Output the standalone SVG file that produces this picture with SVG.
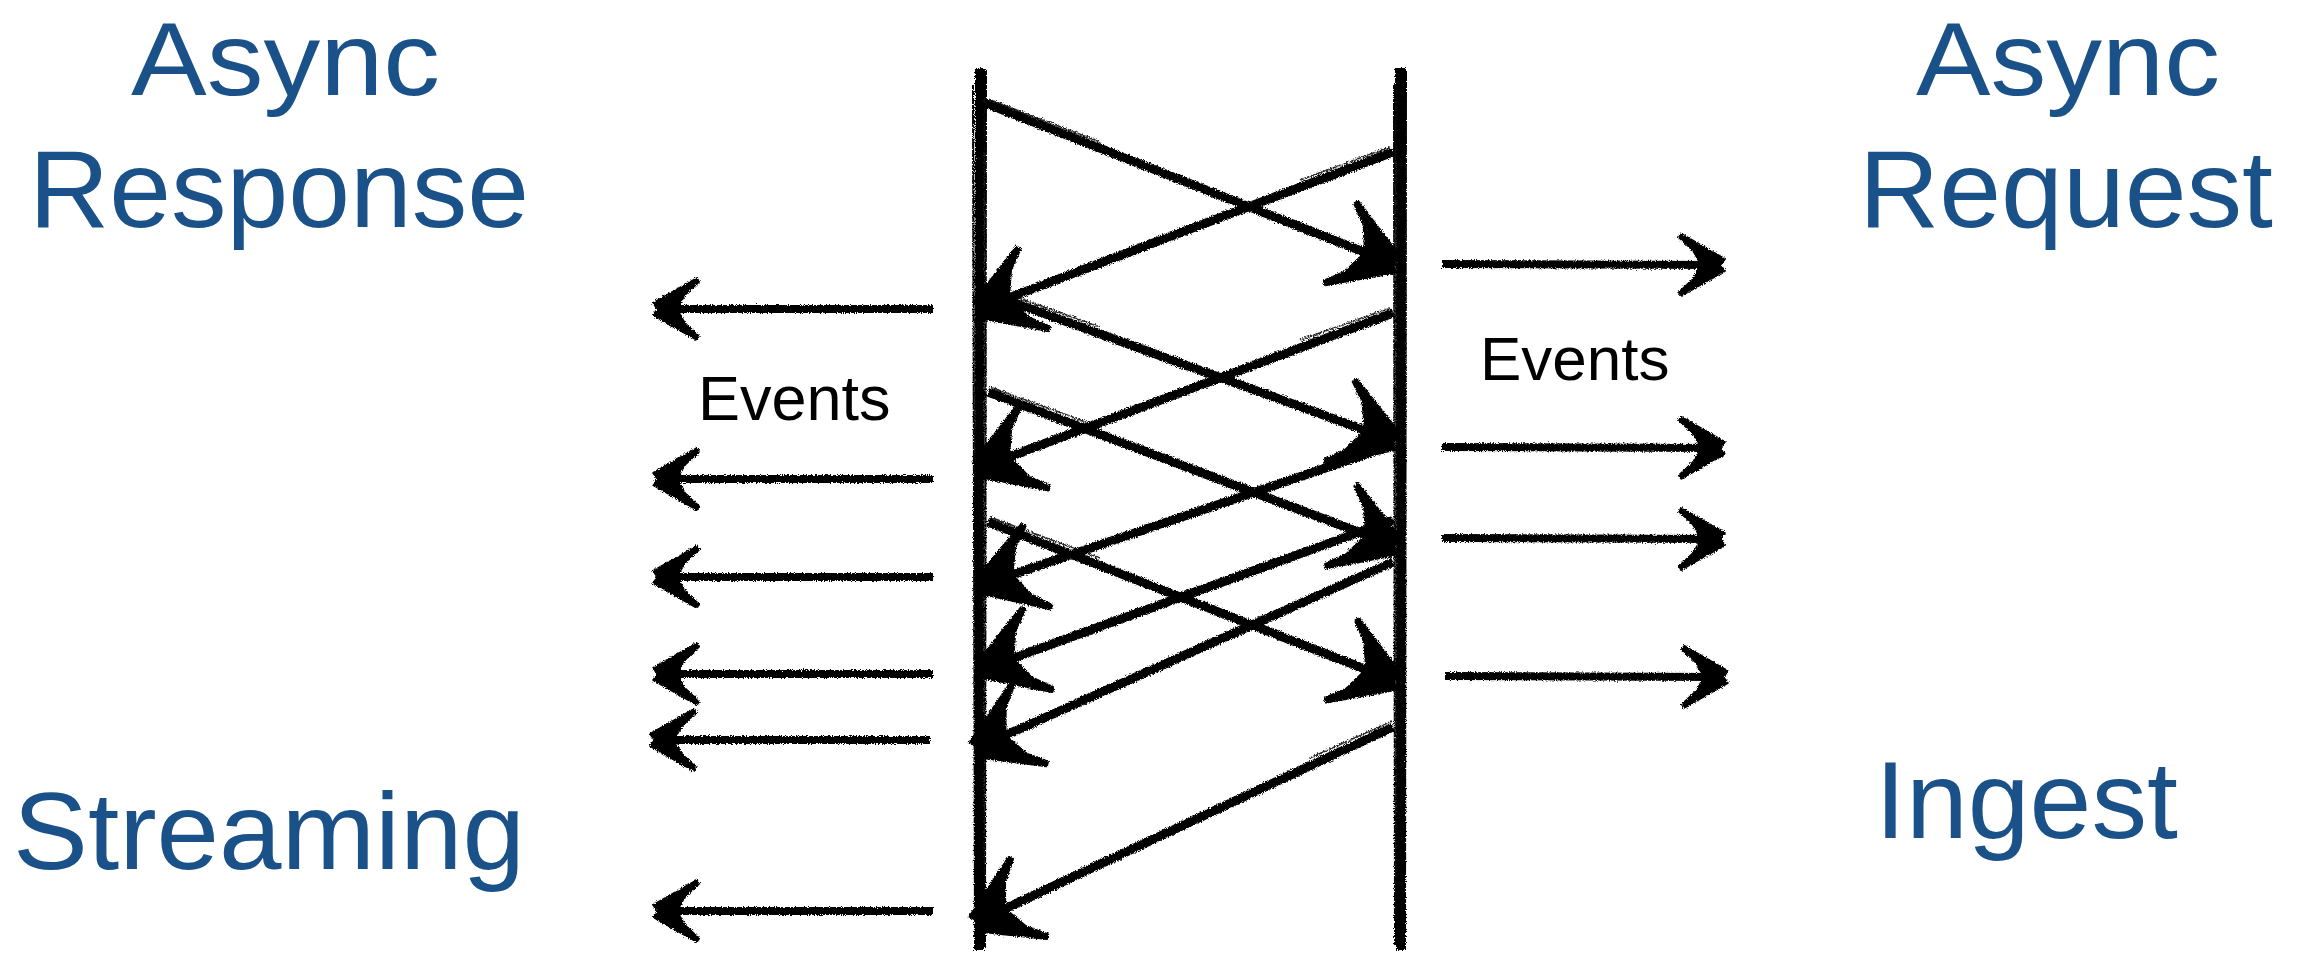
<svg xmlns="http://www.w3.org/2000/svg" width="2301" height="955" viewBox="0 0 2301 955">
  <style>
    .title { font-family: "Liberation Sans", Arial, Helvetica, sans-serif; font-size: 110px; fill: #1a5189; }
    .top { font-size: 104px; }
    .lbl { font-family: "Liberation Sans", Arial, Helvetica, sans-serif; fill: #000000; }
    .life { stroke: #000; stroke-width: 10; fill: none; stroke-linecap: butt; }
    .lifethin { stroke: #000; stroke-width: 2; fill: none; }
    .diag { stroke: #000; stroke-width: 9; fill: none; stroke-linecap: butt; marker-end: url(#headD); }
    .horz { stroke: #000; stroke-width: 8; fill: none; stroke-linecap: butt; marker-end: url(#headH); }
    .hair { stroke: #000; stroke-width: 1.6; fill: none; opacity: 0.85; }
  </style>
  <defs>
    <filter id="rough" x="-5%" y="-5%" width="110%" height="110%">
      <feTurbulence type="fractalNoise" baseFrequency="0.85" numOctaves="2" seed="7" result="noise"/>
      <feDisplacementMap in="SourceGraphic" in2="noise" scale="4.5" xChannelSelector="R" yChannelSelector="G"/>
    </filter>
    <marker id="headD" markerUnits="userSpaceOnUse" orient="auto" viewBox="-100 -100 200 200" markerWidth="200" markerHeight="200" refX="0" refY="0" overflow="visible">
      <polygon points="6,-8 -54,-44.7 -56.4,-41.5 -6,8" fill="#000" stroke="#000" stroke-width="3" stroke-linejoin="round"/>
      <polygon points="6,8 -54,44.7 -56.4,41.5 -6,-8" fill="#000" stroke="#000" stroke-width="3" stroke-linejoin="round"/>
      <polygon points="2,0 -42,-26 -30,0 -42,26" fill="#000"/>
    </marker>
    <marker id="headH" markerUnits="userSpaceOnUse" orient="auto" viewBox="-100 -100 200 200" markerWidth="200" markerHeight="200" refX="0" refY="0" overflow="visible">
      <polygon points="4.5,-6 -38.6,-30.5 -40.8,-27.5 -4.5,6" fill="#000" stroke="#000" stroke-width="2.5" stroke-linejoin="round"/>
      <polygon points="4.5,6 -38.6,30.5 -40.8,27.5 -4.5,-6" fill="#000" stroke="#000" stroke-width="2.5" stroke-linejoin="round"/>
      <polygon points="2,0 -30,-18 -20,0 -30,18" fill="#000"/>
    </marker>
  </defs>

  <rect x="0" y="0" width="2301" height="955" fill="#ffffff"/>

  <!-- Titles -->
  <g id="async-response">
    <text class="title top" x="131" y="95" textLength="309" lengthAdjust="spacingAndGlyphs">Async</text>
    <text class="title" x="29" y="227" textLength="500" lengthAdjust="spacingAndGlyphs">Response</text>
  </g>
  <g id="streaming">
    <text class="title" x="13" y="869" textLength="512" lengthAdjust="spacingAndGlyphs">Streaming</text>
  </g>
  <g id="async-request">
    <text class="title top" x="1916" y="95" textLength="304" lengthAdjust="spacingAndGlyphs">Async</text>
    <text class="title" x="1859" y="227" textLength="414" lengthAdjust="spacingAndGlyphs">Request</text>
  </g>
  <g id="ingest">
    <text class="title" x="1875" y="838" textLength="303" lengthAdjust="spacingAndGlyphs">Ingest</text>
  </g>
  <g id="events-left">
    <text class="lbl" x="698" y="420" font-size="63">Events</text>
  </g>
  <g id="events-right">
    <text class="lbl" x="1480" y="380" font-size="62">Events</text>
  </g>

  <!-- Lifelines -->
  <g id="lifeline-left" filter="url(#rough)">
    <path class="life" d="M980,68 L979,950"/>
    <path class="lifethin" d="M973,85 L975,945"/>
    <path class="lifethin" d="M986,70 L985,948"/>
  </g>
  <g id="lifeline-right" filter="url(#rough)">
    <path class="life" d="M1400,68 L1401,950"/>
    <path class="lifethin" d="M1394,85 L1395,945"/>
    <path class="lifethin" d="M1406,70 L1405,948"/>
  </g>

  <!-- Connectors -->
  <g id="connectors" filter="url(#rough)">
    <!-- diagonal messages between lifelines -->
    <path class="diag" d="M985,103 L1392,263"/>
    <path class="hair" d="M988,99 L1100,142"/>
    <path class="diag" d="M1393,152 L982,308"/>
    <path class="hair" d="M1390,147 L1300,180"/>
    <path class="diag" d="M985,292 L1392,440"/>
    <path class="hair" d="M988,287 L1100,327"/>
    <path class="diag" d="M1393,313 L982,467"/>
    <path class="hair" d="M1390,308 L1300,340"/>
    <path class="diag" d="M988,392 L1393,545"/>
    <path class="hair" d="M990,387 L1100,427"/>
    <path class="diag" d="M1393,445 L985,584"/>
    <path class="diag" d="M988,522 L1393,680"/>
    <path class="hair" d="M990,517 L1100,558"/>
    <path class="diag" d="M1393,520 L986,668"/>
    <path class="diag" d="M1393,562 L979,747"/>
    <path class="diag" d="M1393,727 L979,921"/>
    <path class="hair" d="M1392,721 L1310,758"/>

    <!-- outgoing events, left side -->
    <path class="horz" d="M933,309 L658,309"/>
    <path class="horz" d="M933,479 L658,479"/>
    <path class="horz" d="M933,577 L658,577"/>
    <path class="horz" d="M933,674 L658,674"/>
    <path class="horz" d="M930,740 L655,740"/>
    <path class="horz" d="M933,911 L658,911"/>

    <!-- outgoing events, right side -->
    <path class="horz" d="M1442,264 L1720,265"/>
    <path class="horz" d="M1442,447 L1720,448"/>
    <path class="horz" d="M1442,538 L1720,539"/>
    <path class="horz" d="M1445,676 L1723,677"/>
  </g>
</svg>
